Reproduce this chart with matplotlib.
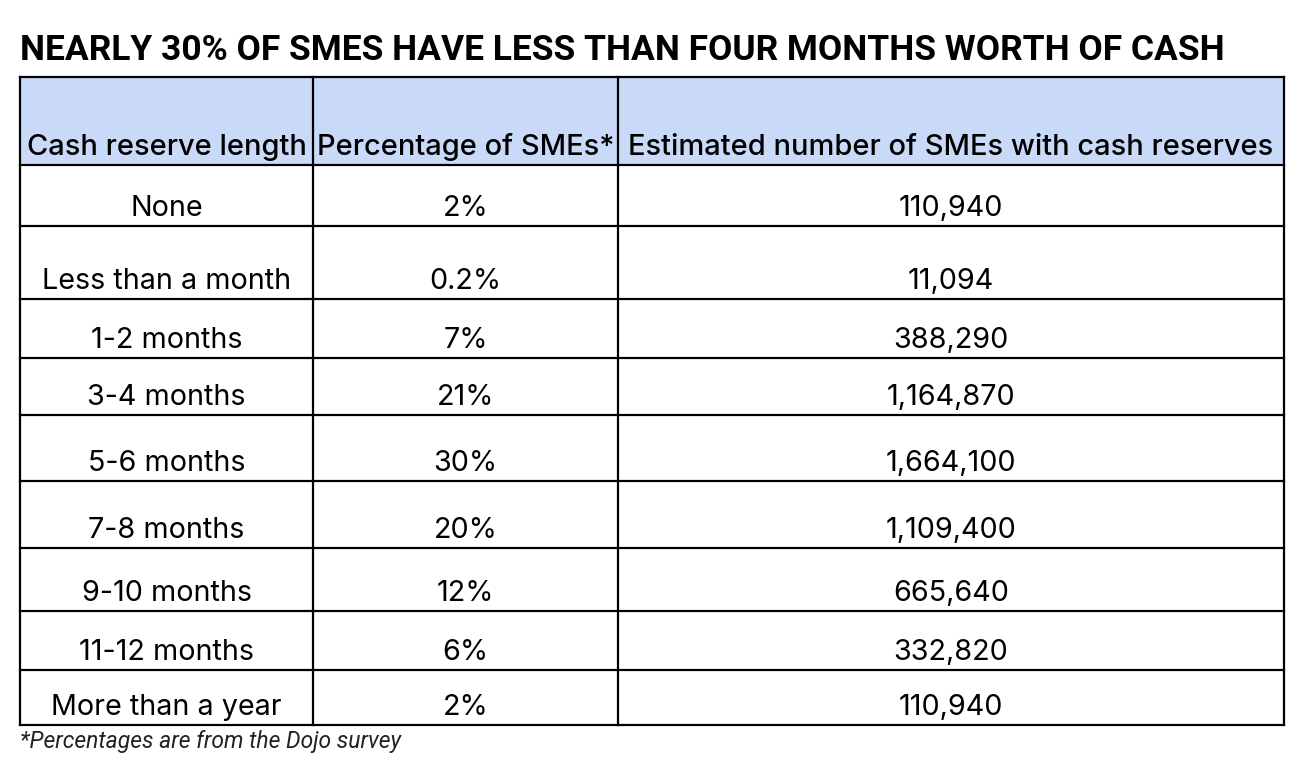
import matplotlib.pyplot as plt
import matplotlib

matplotlib.rcParams['font.family'] = ['Inter', 'DejaVu Sans']

title = "NEARLY 30% OF SMES HAVE LESS THAN FOUR MONTHS WORTH OF CASH"
footnote = "*Percentages are from the Dojo survey"
headers = ["Cash reserve length", "Percentage of SMEs*", "Estimated number of SMEs with cash reserves"]
lengths = ["None", "Less than a month", "1-2 months", "3-4 months", "5-6 months",
           "7-8 months", "9-10 months", "11-12 months", "More than a year"]
percentages = ["2%", "0.2%", "7%", "21%", "30%", "20%", "12%", "6%", "2%"]
estimates = [110940, 11094, 388290, 1164870, 1664100, 1109400, 665640, 332820, 110940]

# table grid in pixel units (figure is 1296x778)
col_edges = [20, 313, 618, 1284]
row_edges = [77, 165, 226, 299, 358, 415, 481, 548, 611, 670, 725]

fig = plt.figure(figsize=(12.96, 7.78), dpi=100)
ax = fig.add_axes([0, 0, 1, 1])
ax.set_xlim(0, 1296)
ax.set_ylim(778, 0)
ax.axis('off')

# header background
ax.add_patch(plt.Rectangle((col_edges[0], row_edges[0]), col_edges[-1] - col_edges[0],
                           row_edges[1] - row_edges[0], facecolor='#c9daf8', edgecolor='none'))

# grid lines
for y in row_edges:
	ax.plot([col_edges[0], col_edges[-1]], [y, y], color='black', lw=1.6, solid_capstyle='projecting')
for x in col_edges:
	ax.plot([x, x], [row_edges[0], row_edges[-1]], color='black', lw=1.6, solid_capstyle='projecting')

centers = [(col_edges[i] + col_edges[i + 1]) / 2 for i in range(3)]

# header
for c, h in zip(centers, headers):
	ax.text(c, row_edges[1] - 10, h, ha='center', va='baseline', fontsize=20.9,
	        fontweight='medium', color='black')

# body
for i in range(len(lengths)):
	yb = row_edges[i + 2] - 10
	vals = [lengths[i], percentages[i], f"{estimates[i]:,}"]
	for c, v in zip(centers, vals):
		ax.text(c, yb, v, ha='center', va='baseline', fontsize=20.7, color='black')

ax.text(20, 60, title, ha='left', va='baseline', fontsize=25.5, fontweight='bold',
        color='black', family='Roboto')
ax.text(20, 748, footnote, ha='left', va='baseline', fontsize=16.5, style='italic',
        color='#222222', family='Roboto')

fig.savefig('out.png', dpi=100)
